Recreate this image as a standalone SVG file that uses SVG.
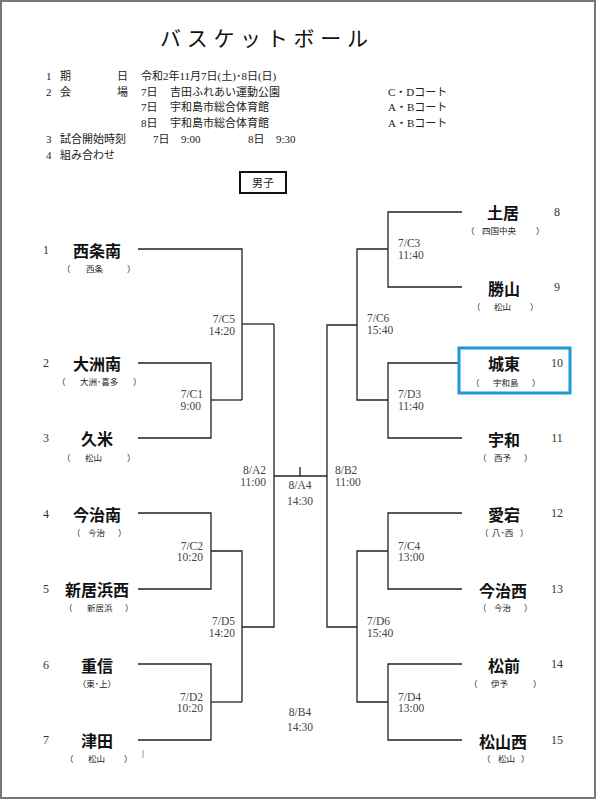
<svg xmlns="http://www.w3.org/2000/svg" width="596" height="800" viewBox="0 0 596 800">
<style>
.ln{stroke:#222;stroke-width:1.3;fill:none}
.info{font-family:"Liberation Serif","Noto Sans CJK JP",serif;font-size:11px;fill:#222;dominant-baseline:central}
.lab{font-family:"Liberation Serif","Noto Sans CJK JP",serif;font-size:11.5px;fill:#444;dominant-baseline:central}
.labr{font-family:"Liberation Serif","Noto Sans CJK JP",serif;font-size:11.5px;fill:#444;dominant-baseline:central;text-anchor:end}
.nm{font-family:"Noto Sans CJK JP","Noto Sans",sans-serif;font-size:16px;font-weight:700;fill:#111;text-anchor:middle;dominant-baseline:central}
.sub{font-family:"Noto Sans CJK JP","Noto Sans",sans-serif;font-size:8.5px;fill:#222;dominant-baseline:central}
.subm{font-family:"Noto Sans CJK JP","Noto Sans",sans-serif;font-size:8.5px;fill:#222;dominant-baseline:central;text-anchor:middle}
.num{font-family:"Liberation Serif",serif;font-size:12px;fill:#333;dominant-baseline:central;text-anchor:middle}
</style>
<rect x="0" y="0" width="596" height="800" fill="#fff"/>
<rect x="1" y="1" width="594" height="797" fill="none" stroke="#777" stroke-width="2"/>

<g id="title">
<text x="160" y="37" font-family="'Noto Sans CJK JP',sans-serif" font-size="21" letter-spacing="5.7" fill="#111" dominant-baseline="central">バスケットボール</text>
</g>

<g id="info">
<text class="info" y="76"><tspan x="46">1</tspan><tspan x="60">期</tspan><tspan x="117">日</tspan><tspan x="141">令和2年11月7日(土)･8日(日)</tspan></text>
<text class="info" y="92"><tspan x="46">2</tspan><tspan x="60">会</tspan><tspan x="117">場</tspan><tspan x="141">7日</tspan><tspan x="170">吉田ふれあい運動公園</tspan><tspan x="388">C・Dコート</tspan></text>
<text class="info" y="107"><tspan x="141">7日</tspan><tspan x="170">宇和島市総合体育館</tspan><tspan x="388">A・Bコート</tspan></text>
<text class="info" y="123"><tspan x="141">8日</tspan><tspan x="170">宇和島市総合体育館</tspan><tspan x="388">A・Bコート</tspan></text>
<text class="info" y="139"><tspan x="46">3</tspan><tspan x="60">試合開始時刻</tspan><tspan x="153">7日</tspan><tspan x="181">9:00</tspan><tspan x="248">8日</tspan><tspan x="276">9:30</tspan></text>
<text class="info" y="155"><tspan x="46">4</tspan><tspan x="60">組み合わせ</tspan></text>
</g>

<g id="division">
<rect x="240" y="172" width="46" height="21" fill="none" stroke="#111" stroke-width="2"/>
<text class="info" x="263" y="183" text-anchor="middle" font-size="12">男子</text>
</g>

<g id="connectors">
<path class="ln" d="M138 249H242V400"/>
<path class="ln" d="M138 363H211V438H138"/>
<path class="ln" d="M211 400H242"/>
<path class="ln" d="M242 324H274"/>
<path class="ln" d="M138 513H211V589H138"/>
<path class="ln" d="M211 551H242V702"/>
<path class="ln" d="M138 664H211V740H138"/>
<path class="ln" d="M211 702H242"/>
<path class="ln" d="M242 627H274V324"/>
<path class="ln" d="M274 476H327"/>
<path class="ln" d="M300 467V476"/>
<path class="ln" d="M327 476V325H357"/>
<path class="ln" d="M327 476V627H357"/>
<path class="ln" d="M462 212H388V287H462"/>
<path class="ln" d="M388 249H357V400H388"/>
<path class="ln" d="M458 363H388V438H462"/>
<path class="ln" d="M462 513H388V589H462"/>
<path class="ln" d="M388 551H357V702H388"/>
<path class="ln" d="M462 664H388V740H462"/>
<path d="M143 750V758" stroke="#999" stroke-width="1"/>
</g>

<g id="match-labels">
<text class="labr" x="235" y="319">7/C5</text><text class="labr" x="235" y="331">14:20</text>
<text class="labr" x="203" y="394">7/C1</text><text class="labr" x="201" y="406">9:00</text>
<text class="labr" x="266" y="470">8/A2</text><text class="labr" x="266" y="482">11:00</text>
<text class="labr" x="203" y="546">7/C2</text><text class="labr" x="203" y="557">10:20</text>
<text class="labr" x="235" y="621">7/D5</text><text class="labr" x="235" y="633">14:20</text>
<text class="labr" x="203" y="697">7/D2</text><text class="labr" x="203" y="708">10:20</text>
<text class="lab" x="300" y="485" text-anchor="middle">8/A4</text><text class="lab" x="300" y="501" text-anchor="middle">14:30</text>
<text class="lab" x="300" y="712" text-anchor="middle">8/B4</text><text class="lab" x="300" y="727" text-anchor="middle">14:30</text>
<text class="lab" x="398" y="243">7/C3</text><text class="lab" x="398" y="255">11:40</text>
<text class="lab" x="367" y="318">7/C6</text><text class="lab" x="367" y="330">15:40</text>
<text class="lab" x="398" y="394">7/D3</text><text class="lab" x="398" y="406">11:40</text>
<text class="lab" x="335" y="470">8/B2</text><text class="lab" x="335" y="482">11:00</text>
<text class="lab" x="398" y="546">7/C4</text><text class="lab" x="398" y="557">13:00</text>
<text class="lab" x="367" y="621">7/D6</text><text class="lab" x="367" y="633">15:40</text>
<text class="lab" x="398" y="697">7/D4</text><text class="lab" x="398" y="708">13:00</text>
</g>

<g id="team1"><text class="num" x="46" y="250">1</text><text class="nm" x="97" y="250">西条南</text><text class="sub" y="268"><tspan x="62">（</tspan><tspan x="86">西条</tspan><tspan x="127">）</tspan></text></g>
<g id="team2"><text class="num" x="46" y="363">2</text><text class="nm" x="97" y="363">大洲南</text><text class="sub" y="381"><tspan x="57">（</tspan><tspan x="80">大洲･喜多</tspan><tspan x="133">）</tspan></text></g>
<g id="team3"><text class="num" x="46" y="438">3</text><text class="nm" x="97" y="438">久米</text><text class="sub" y="457"><tspan x="62">（</tspan><tspan x="85">松山</tspan><tspan x="127">）</tspan></text></g>
<g id="team4"><text class="num" x="46" y="514">4</text><text class="nm" x="97" y="514">今治南</text><text class="sub" y="532"><tspan x="72">（</tspan><tspan x="88">今治</tspan><tspan x="118">）</tspan></text></g>
<g id="team5"><text class="num" x="46" y="589">5</text><text class="nm" x="97" y="589">新居浜西</text><text class="sub" y="607"><tspan x="64">（</tspan><tspan x="87">新居浜</tspan><tspan x="125">）</tspan></text></g>
<g id="team6"><text class="num" x="46" y="665">6</text><text class="nm" x="97" y="665">重信</text><text class="subm" x="97" y="683">（東･上）</text></g>
<g id="team7"><text class="num" x="46" y="740">7</text><text class="nm" x="97" y="740">津田</text><text class="sub" y="758"><tspan x="65">（</tspan><tspan x="88">松山</tspan><tspan x="124">）</tspan></text></g>

<g id="team8"><text class="num" x="557" y="212">8</text><text class="nm" x="503" y="212">土居</text><text class="sub" y="230"><tspan x="466">（</tspan><tspan x="482">四国中央</tspan><tspan x="536">）</tspan></text></g>
<g id="team9"><text class="num" x="557" y="287">9</text><text class="nm" x="504" y="288">勝山</text><text class="sub" y="306"><tspan x="472">（</tspan><tspan x="494">松山</tspan><tspan x="530">）</tspan></text></g>
<g id="team10"><rect x="459" y="348" width="111" height="45" fill="none" stroke="#1b9ad6" stroke-width="3"/><text class="num" x="557" y="363">10</text><text class="nm" x="504" y="363">城東</text><text class="sub" y="382"><tspan x="471">（</tspan><tspan x="493">宇和島</tspan><tspan x="532">）</tspan></text></g>
<g id="team11"><text class="num" x="557" y="438">11</text><text class="nm" x="504" y="439">宇和</text><text class="sub" y="457"><tspan x="478">（</tspan><tspan x="494">西予</tspan><tspan x="524">）</tspan></text></g>
<g id="team12"><text class="num" x="557" y="513">12</text><text class="nm" x="504" y="514">愛宕</text><text class="sub" y="532"><tspan x="480">（</tspan><tspan x="492">八･西</tspan><tspan x="520">）</tspan></text></g>
<g id="team13"><text class="num" x="557" y="589">13</text><text class="nm" x="503" y="590">今治西</text><text class="sub" y="607"><tspan x="478">（</tspan><tspan x="494">今治</tspan><tspan x="524">）</tspan></text></g>
<g id="team14"><text class="num" x="557" y="664">14</text><text class="nm" x="504" y="665">松前</text><text class="sub" y="683"><tspan x="469">（</tspan><tspan x="491">伊予</tspan><tspan x="533">）</tspan></text></g>
<g id="team15"><text class="num" x="557" y="740">15</text><text class="nm" x="503" y="741">松山西</text><text class="sub" y="758"><tspan x="482">（</tspan><tspan x="498">松山</tspan><tspan x="521">）</tspan></text></g>
</svg>
